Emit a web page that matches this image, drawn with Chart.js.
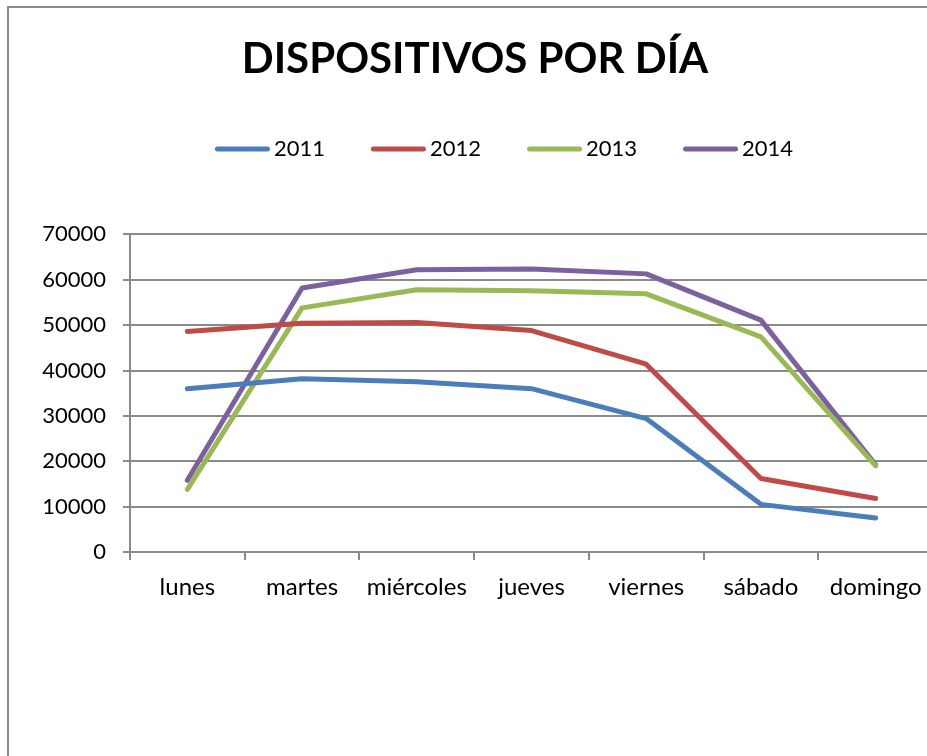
<!DOCTYPE html>
<html><head><meta charset="utf-8">
<script src="https://cdn.jsdelivr.net/npm/chart.js@4.4.1/dist/chart.umd.min.js"></script>
<style>
html,body{margin:0;padding:0;background:#fff;overflow:hidden;width:927px;height:756px;}
#frame{position:absolute;left:7px;top:6px;width:940px;height:780px;border-left:2px solid #8a8a8a;border-top:2px solid #8a8a8a;background:#fff;}
#c{display:block;}
</style></head><body>
<div id="frame"><canvas id="c" width="940" height="780"></canvas></div>
<script>
const categories = ['lunes','martes','miércoles','jueves','viernes','sábado','domingo'];
const seriesNames = ['2011','2012','2013','2014'];
const values2011 = [36000, 38200, 37500, 36000, 29400, 10500, 7500];
const values2012 = [48600, 50400, 50600, 48800, 41400, 16200, 11800];
const values2013 = [13800, 53800, 57800, 57600, 56900, 47400, 19000];
const values2014 = [15800, 58200, 62200, 62400, 61300, 51100, 19200];
const seriesColors = ['#4A7EBB', '#BE4B48', '#98B954', '#7D60A0'];
const yMin = 0, yMax = 70000, yStep = 10000;
const titleText = 'DISPOSITIVOS POR DÍA';

const allValues = [values2011, values2012, values2013, values2014];
const GRID = '#8a8a8a';
const FONT = 'Lato';

const legendPlugin = {
  id: 'xlLegend',
  afterDraw(chart) {
    const ctx = chart.ctx;
    const cx = 495, cy = 141, lineLen = 55, gap = 4, spacing = 46;
    ctx.save();
    ctx.font = '22px ' + FONT;
    const items = chart.data.datasets.map(d => ({
      label: d.label, color: d.borderColor,
      w: lineLen + gap + ctx.measureText(d.label).width
    }));
    const total = items.reduce((s, it) => s + it.w, 0) + spacing * (items.length - 1);
    let x = cx - total / 2;
    items.forEach(it => {
      ctx.strokeStyle = it.color; ctx.lineWidth = 5; ctx.lineCap = 'round';
      ctx.beginPath(); ctx.moveTo(x + 2.5, cy); ctx.lineTo(x + lineLen - 2.5, cy); ctx.stroke();
      ctx.fillStyle = '#000'; ctx.textBaseline = 'middle'; ctx.textAlign = 'left';
      ctx.fillText(it.label, x + lineLen + gap, cy);
      x += it.w + spacing;
    });
    ctx.restore();
  }
};

new Chart(document.getElementById('c'), {
  type: 'line',
  data: {
    labels: categories,
    datasets: seriesNames.map((name, i) => ({
      label: name,
      data: allValues[i],
      borderColor: seriesColors[i],
      backgroundColor: seriesColors[i],
      borderWidth: 5,
      borderCapStyle: 'round',
      borderJoinStyle: 'round',
      pointRadius: 0,
      pointHoverRadius: 0,
      tension: 0,
      fill: false
    }))
  },
  options: {
    responsive: false,
    animation: false,
    devicePixelRatio: 1,
    layout: { padding: { left: 8, right: 16, top: 0, bottom: 176 } },
    plugins: {
      legend: { display: false },
      tooltip: { enabled: false },
      title: {
        display: true,
        text: titleText,
        color: '#000',
        font: { family: FONT, size: 42, weight: 'bold' },
        padding: { top: 26, bottom: 150 }
      }
    },
    scales: {
      x: {
        offset: true,
        grid: { offset: true, drawOnChartArea: false, drawTicks: true, tickLength: 8, color: GRID, lineWidth: 2 },
        border: { display: true, color: GRID, width: 2 },
        ticks: { color: '#000', font: { family: FONT, size: 24 }, padding: 13, maxRotation: 0, autoSkip: false },
        afterFit(scale) { scale.height = 60; scale.paddingLeft = 0; scale.paddingRight = 0; }
      },
      y: {
        min: yMin, max: yMax,
        grid: { drawTicks: true, tickLength: 7, color: GRID, lineWidth: 2 },
        border: { display: true, color: GRID, width: 2 },
        ticks: { stepSize: yStep, color: '#000', font: { family: FONT, size: 22 }, padding: 17,
                 callback: v => String(v) },
        afterFit(scale) { scale.width = 113; scale.paddingTop = 0; scale.paddingBottom = 0; }
      }
    }
  },
  plugins: [legendPlugin]
});
</script>
</body></html>
